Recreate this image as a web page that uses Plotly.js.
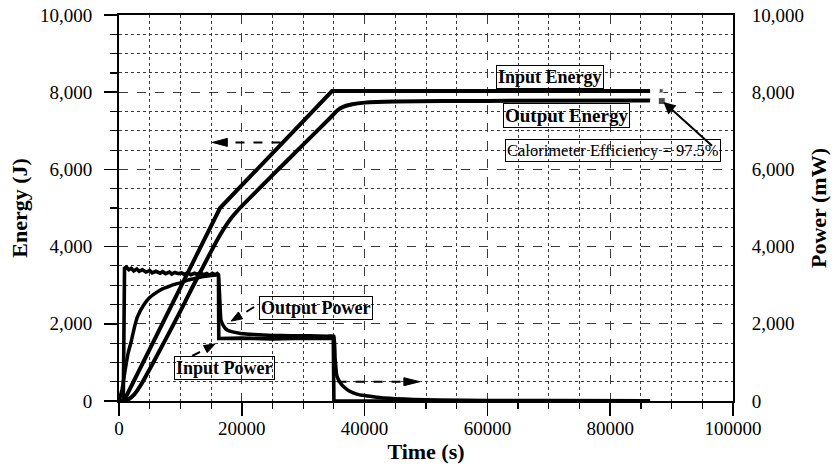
<!DOCTYPE html>
<html>
<head>
<meta charset="utf-8">
<script src="https://cdn.plot.ly/plotly-3.0.1.min.js"></script>
<style>html,body{margin:0;padding:0;background:#fff;}#chart{width:837px;height:468px;}</style>
</head>
<body>
<div id="chart"></div>
<script>
// ---- Data ----
// Energy (J), left axis
const inputEnergyT = [0, 800, 16460, 34700, 86500];
const inputEnergyE = [0, 0, 5000, 8030, 8030];

const outputEnergyT = [0, 1500, 2500, 3500, 4500, 6000, 8000, 10000, 12000, 14830, 16460, 18000, 19700, 25000, 30000, 34500, 35500, 36500, 38000, 40000, 45000, 60000, 86500];
const outputEnergyE = [0, 40, 170, 400, 680, 1120, 1720, 2330, 2960, 3826, 4300, 4680, 5000, 5850, 6640, 7350, 7520, 7620, 7690, 7730, 7760, 7775, 7785];

// Power (mW), right axis
const inputPowerT = [0, 700, 900, 1200, 1600, 2000, 2400, 2900, 3300, 3800, 4400, 5000, 5400, 6000, 6700, 7100, 7600, 8200, 8600, 9100, 9700, 10200, 10600, 11200, 11700, 12300, 12700, 13200, 13800, 14300, 14700, 15200, 15700, 16000, 16200, 16250, 20000, 25000, 30000, 34900, 35000, 86500];
const inputPowerP = [0, 0, 3440, 3470, 3400, 3440, 3370, 3420, 3360, 3400, 3340, 3380, 3320, 3360, 3310, 3350, 3300, 3340, 3290, 3330, 3300, 3320, 3280, 3320, 3270, 3310, 3280, 3320, 3270, 3300, 3260, 3310, 3270, 3300, 3270, 1620, 1630, 1610, 1630, 1620, 0, 0];

const outputPowerT = [0, 500, 1000, 1500, 2000, 2500, 3000, 4000, 5000, 6000, 7000, 8000, 9000, 10000, 11000, 12000, 13000, 14000, 15000, 16000, 16200, 16600, 17000, 17600, 18500, 19800, 22000, 25000, 28000, 31000, 34000, 35000, 35200, 35500, 36000, 36600, 37500, 38700, 40000, 41400, 43000, 45000, 48000, 52000, 60000, 70000, 86500];
const outputPowerP = [0, 300, 800, 1250, 1550, 1900, 2180, 2480, 2680, 2800, 2900, 2960, 3020, 3060, 3120, 3160, 3200, 3230, 3250, 3270, 3250, 2100, 1950, 1840, 1790, 1750, 1720, 1700, 1690, 1690, 1680, 1680, 1100, 640, 480, 370, 260, 180, 140, 110, 80, 60, 40, 25, 15, 10, 5];

// Calorimeter efficiency marker (J)
const effMarkT = [88300, 88400];
const effMarkE = [8040, 7770];

// ---- Chart ----
const FONT = 'Liberation Serif, Times New Roman, serif';
const GRID = '#3a3a3a';

// pixel -> data unit conversion for annotation arrowheads (plot is 614px x 386px)
const PX_X = 100000 / 614, PX_Y = 10000 / 386;
function headPath(xTip, yTip, dxPx, dyPx, len, halfW) {
  const n = Math.hypot(dxPx, dyPx), ux = dxPx / n, uy = dyPx / n;
  const bx = -ux * len, by = -uy * len;
  const px = -uy * halfW, py = ux * halfW;
  const p = (ox, oy) => (xTip + ox * PX_X) + ' ' + (yTip - oy * PX_Y);
  return 'M ' + p(0, 0) + ' L ' + p(bx + px, by + py) + ' L ' + p(bx - px, by - py) + ' Z';
}
function baseOf(xTip, yTip, dxPx, dyPx, len) {
  const n = Math.hypot(dxPx, dyPx);
  return [xTip - dxPx / n * len * PX_X, yTip + dyPx / n * len * PX_Y];
}

const traces = [
  {x: inputEnergyT, y: inputEnergyE, mode: 'lines', line: {color: '#000', width: 4}, yaxis: 'y', hoverinfo: 'skip'},
  {x: outputEnergyT, y: outputEnergyE, mode: 'lines', line: {color: '#000', width: 4, shape: 'spline', smoothing: 0.4}, yaxis: 'y', hoverinfo: 'skip'},
  {x: inputPowerT, y: inputPowerP, mode: 'lines', line: {color: '#000', width: 3.6}, yaxis: 'y2', hoverinfo: 'skip'},
  {x: outputPowerT, y: outputPowerP, mode: 'lines', line: {color: '#000', width: 3.5, shape: 'spline', smoothing: 0.3}, yaxis: 'y2', hoverinfo: 'skip'},
  {x: effMarkT, y: effMarkE, mode: 'markers', marker: {symbol: 'square', color: '#000', size: [4, 7]}, yaxis: 'y', hoverinfo: 'skip'}
];

const boxText = (txt, x, y, size, bold) => ({
  text: bold ? '<b>' + txt + '</b>' : txt,
  x: x, y: y, xref: 'x', yref: 'y', showarrow: false,
  font: {family: FONT, size: size, color: '#000'},
  bordercolor: '#000', borderwidth: 1, borderpad: 1
});

// leader arrows: tail & tip (data units) + direction in px
const ipTip = [15650, 1477], ipDir = [23, -12];
const opTip = [18260, 2070], opDir = [-23, 14];
const ipBase = baseOf(ipTip[0], ipTip[1], ipDir[0], ipDir[1], 11);
const opBase = baseOf(opTip[0], opTip[1], opDir[0], opDir[1], 11);

const layout = {
  width: 837, height: 468,
  margin: {l: 119, r: 104, t: 15, b: 67},
  paper_bgcolor: '#fff', plot_bgcolor: '#fff',
  showlegend: false,
  font: {family: FONT, color: '#000', size: 19},
  xaxis: {
    range: [0, 100000], tick0: 0, dtick: 20000, tickformat: 'd',
    ticks: 'outside', ticklen: 13, tickwidth: 1.5, tickcolor: '#000',
    ticklabelstandoff: -4,
    showline: true, linewidth: 2, linecolor: '#000', mirror: true,
    showgrid: true, gridcolor: GRID, gridwidth: 1, griddash: 'dash',
    zeroline: false,
    minor: {tick0: 0, dtick: 5000, ticks: 'outside', ticklen: 6, tickwidth: 1.2, tickcolor: '#000', showgrid: true, gridcolor: GRID, gridwidth: 1, griddash: 'dot'},
    tickfont: {family: FONT, size: 19},
    title: {text: '<b>Time (s)</b>', font: {family: FONT, size: 22}, standoff: 0}
  },
  yaxis: {
    range: [0, 10000], tick0: 0, dtick: 2000, tickformat: ',d',
    ticks: 'outside', ticklen: 13, tickwidth: 1.5, tickcolor: '#000',
    ticklabelstandoff: 8,
    showline: true, linewidth: 2, linecolor: '#000',
    showgrid: true, gridcolor: GRID, gridwidth: 1, griddash: 'dash',
    zeroline: false,
    minor: {tick0: 0, dtick: 500, ticks: 'outside', ticklen: 7, tickwidth: 1.2, tickcolor: '#000', showgrid: true, gridcolor: GRID, gridwidth: 1, griddash: 'dot'},
    tickfont: {family: FONT, size: 19},
    title: {text: '<b>Energy (J)</b>', font: {family: FONT, size: 22}, standoff: 6}
  },
  yaxis2: {
    overlaying: 'y', side: 'right',
    range: [0, 10000], tick0: 0, dtick: 2000, tickformat: ',d',
    ticks: '', ticklabelstandoff: 13,
    showline: true, linewidth: 2, linecolor: '#000',
    showgrid: false, zeroline: false,
    tickfont: {family: FONT, size: 19},
    title: {text: '<b>Power (mW)</b>', font: {family: FONT, size: 22}, standoff: 8}
  },
  shapes: [
    // left-pointing dashed arrow (energy curves read on the left axis)
    {type: 'line', xref: 'x', yref: 'y', x0: 26300, y0: 6700, x1: 17400, y1: 6700, line: {color: '#000', width: 2, dash: 'dash'}},
    {type: 'path', xref: 'x', yref: 'y', path: headPath(15200, 6700, -1, 0, 15, 4), fillcolor: '#000', line: {color: '#000', width: 1}},
    // right-pointing dashed arrow (power curves read on the right axis)
    {type: 'line', xref: 'x', yref: 'y', x0: 35600, y0: 500, x1: 46800, y1: 500, line: {color: '#000', width: 2, dash: 'dash'}},
    {type: 'path', xref: 'x', yref: 'y', path: headPath(49000, 500, 1, 0, 16, 4), fillcolor: '#000', line: {color: '#000', width: 1}},
    // Input Power leader
    {type: 'line', xref: 'x', yref: 'y', x0: 11900, y0: 1166, x1: ipBase[0], y1: ipBase[1], line: {color: '#000', width: 2, dash: 'dash'}},
    {type: 'path', xref: 'x', yref: 'y', path: headPath(ipTip[0], ipTip[1], ipDir[0], ipDir[1], 11, 4), fillcolor: '#000', line: {color: '#000', width: 1}},
    // Output Power leader
    {type: 'line', xref: 'x', yref: 'y', x0: 22000, y0: 2435, x1: opBase[0], y1: opBase[1], line: {color: '#000', width: 2, dash: 'dash'}},
    {type: 'path', xref: 'x', yref: 'y', path: headPath(opTip[0], opTip[1], opDir[0], opDir[1], 11, 4), fillcolor: '#000', line: {color: '#000', width: 1}}
  ],
  annotations: [
    boxText('Input Energy', 70250, 8394, 18, true),
    boxText('Output Energy', 72860, 7409, 19, true),
    boxText('Calorimeter Efficiency = 97.5%', 80440, 6490, 16.5, false),
    boxText('Output Power', 32030, 2422, 18, true),
    boxText('Input Power', 17115, 868, 18, true),
    {text: '', x: 88670, y: 7746, ax: 96820, ay: 6580, xref: 'x', yref: 'y', axref: 'x', ayref: 'y',
     showarrow: true, arrowhead: 2, arrowsize: 1.2, arrowwidth: 2, arrowcolor: '#000', standoff: 0, startstandoff: 0}
  ]
};

Plotly.newPlot('chart', traces, layout, {displayModeBar: false, staticPlot: true});
</script>
</body>
</html>
